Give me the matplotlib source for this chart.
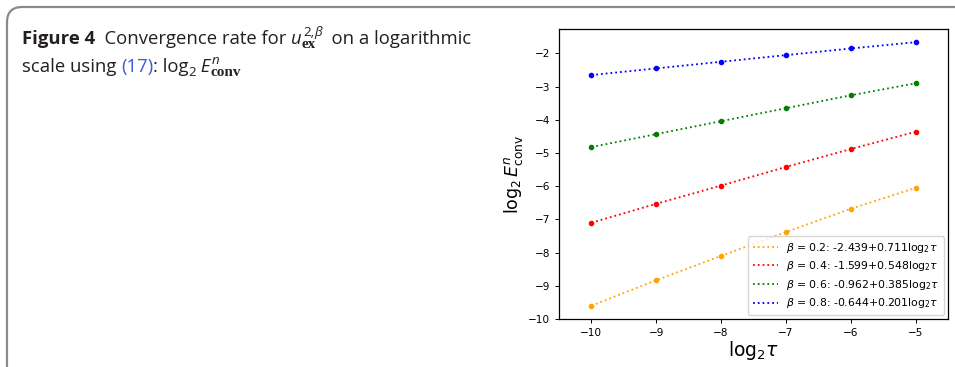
import numpy as np
import matplotlib.pyplot as plt
from matplotlib.patches import FancyBboxPatch

# -----------------------------
# Data
# -----------------------------
log2_tau = [-10, -9, -8, -7, -6, -5]

betas = [0.2, 0.4, 0.6, 0.8]
colors = ["orange", "red", "green", "blue"]
fit_a = [-2.439, -1.599, -0.962, -0.644]
fit_b = [0.711, 0.548, 0.385, 0.201]

log2_err = [
    [-9.60, -8.83, -8.10, -7.38, -6.68, -6.05],   # beta = 0.2
    [-7.10, -6.53, -5.98, -5.42, -4.88, -4.36],   # beta = 0.4
    [-4.82, -4.43, -4.04, -3.65, -3.26, -2.90],   # beta = 0.6
    [-2.65, -2.45, -2.25, -2.05, -1.85, -1.66],   # beta = 0.8
]

W, H = 955, 367
fig = plt.figure(figsize=(W / 100, H / 100), dpi=100)
renderer = fig.canvas.get_renderer()

# -----------------------------
# Panel frame (rounded, open to the right/bottom)
# -----------------------------
frame = FancyBboxPatch((7 / W, -0.2), 1.2, (H - 7) / H + 0.2,
                       boxstyle="round,pad=0,rounding_size=0.016",
                       transform=fig.transFigure, fill=False,
                       edgecolor="#8a8a8a", linewidth=1.6,
                       mutation_aspect=W / H)
fig.patches.append(frame)

# -----------------------------
# Caption, pieced together left to right
# -----------------------------
SANS = ["Open Sans", "DejaVu Sans"]
SERIF = ["Liberation Serif", "DejaVu Serif"]
INK = "#231f20"
FS = 13.3


def put(txt, x, base, dy=0, size=FS, family=SANS, **kw):
    kw.setdefault("color", INK)
    t = fig.text(x / W, 1 - (base - dy) / H, txt, fontsize=size,
                 family=family, va="baseline", ha="left", **kw)
    return t.get_window_extent(renderer=renderer).x1


# line 1
b1 = 44.3
x = put("Figure 4", 22, b1, weight="bold")
x = put("  Convergence rate for ", x, b1)
x = put("u", x, b1, style="italic")
xs = put("2,", x + 1, b1, dy=8, size=FS * 0.72)
xs = put("β", xs, b1, dy=8, size=FS * 0.72, style="italic")
xb = put("ex", x, b1, dy=-4, size=FS * 0.82, family=SERIF, weight="bold")
x = put("  on a logarithmic", max(xs, xb), b1)

# line 2
b2 = 71.7
x = put("scale using ", 22, b2)
x = put("(17)", x, b2, color="#3b57e8")
x = put(": log", x, b2)
x = put("2", x, b2, dy=-4, size=FS * 0.72)
x = put(" E", x, b2, style="italic")
xs = put("n", x + 1, b2, dy=8, size=FS * 0.72, style="italic")
xb = put("conv", x, b2, dy=-4, size=FS * 0.82, family=SERIF, weight="bold")

# -----------------------------
# Chart
# -----------------------------
ax = fig.add_axes([559 / W, 48 / H, 389 / W, 290 / H])

for beta, c, a, b, ys in zip(betas, colors, fit_a, fit_b, log2_err):
    ax.plot(log2_tau, ys, linestyle=":", color=c, linewidth=1.3,
            label=rf"$\beta$ = {beta}: {a}+{b}$\mathrm{{log}}_2\tau$")
    ax.plot(log2_tau, ys, "o", color=c, markersize=3.0, linestyle="none")

ax.set_xlim(-10.5, -4.5)
ax.set_xticks(log2_tau)
ax.set_yticks(np.arange(-10, -1, 1))
ax.tick_params(labelsize=7.6, length=3, width=0.7)
for s in ax.spines.values():
    s.set_linewidth(0.9)

ax.set_xlabel(r"$\mathrm{log}_2\tau$", fontsize=13.5, labelpad=1)
ax.set_ylabel(r"$\mathrm{log}_2\,E^{n}_{\rm conv}$", fontsize=12.5, labelpad=2)

ax.legend(loc="lower right", fontsize=7.8, handlelength=2.3,
          borderaxespad=0.4, labelspacing=0.42, framealpha=0.8)

fig.savefig("out.png", dpi=100)
